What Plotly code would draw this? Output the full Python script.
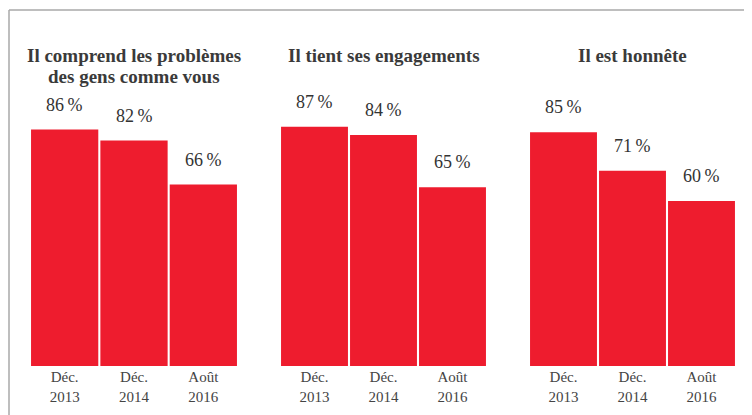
import plotly.graph_objects as go

# Données
periodes = ["Déc.<br>2013", "Déc.<br>2014", "Août<br>2016"]
titres = [["Il comprend les problèmes", "des gens comme vous"],
          ["Il tient ses engagements"],
          ["Il est honnête"]]
comprend = [86, 82, 66]
engagements = [87, 84, 65]
honnete = [85, 71, 60]
series = [comprend, engagements, honnete]

# la page a une marge de 8 px, on réduit la figure d'autant
W, H = 744, 407
ROUGE = "#ee1c2e"
POLICE = "Liberation Serif, Times New Roman, serif"

# domaines en pixels -> fraction de la largeur
domaines = [(22, 230), (272, 479), (521, 728)]

marge_haut, marge_bas = 83, 49
hauteur_trace = H - marge_haut - marge_bas


def py(pix):
    # pixel vertical -> coordonnée papier
    return (H - marge_bas - pix) / hauteur_trace


fig = go.Figure()

for i, valeurs in enumerate(series):
    ax = "" if i == 0 else str(i + 1)
    fig.add_trace(go.Bar(x=periodes, y=valeurs, marker_color=ROUGE,
                         marker_line_width=0, xaxis="x" + ax, yaxis="y" + ax,
                         showlegend=False, hoverinfo="skip"))
    for p, v in zip(periodes, valeurs):
        fig.add_annotation(x=p, y=v, xref="x" + ax, yref="y" + ax,
                           text=f"{v}\u2009%", showarrow=False,
                           yanchor="bottom", yshift=13,
                           font=dict(family=POLICE, size=18, color="#333"))
    d0, d1 = domaines[i]
    fig.update_layout({
        "xaxis" + ax: dict(domain=[d0 / W, d1 / W], anchor="y" + ax,
                           showline=False, showgrid=False, ticks="",
                           tickfont=dict(family=POLICE, size=15, color="#444")),
        "yaxis" + ax: dict(range=[0, 100], anchor="x" + ax, visible=False,
                           showgrid=False, zeroline=False),
    })

# titres
for i, lignes in enumerate(titres):
    d0, d1 = domaines[i]
    for k, ligne in enumerate(lignes):
        fig.add_annotation(x=(d0 + d1) / 2 / W, y=py(47 + 22 * k),
                           xref="paper", yref="paper",
                           text="<b>" + ligne + "</b>", showarrow=False,
                           yanchor="middle", xanchor="center",
                           font=dict(family=POLICE, size=19, color="#3a3a3a"))

# cadre gris
fig.add_shape(type="line", xref="paper", yref="paper",
              x0=1 / W, x1=1.05, y0=py(2), y1=py(2),
              line=dict(color="#a8a8a8", width=1.5))
fig.add_shape(type="line", xref="paper", yref="paper",
              x0=1 / W, x1=1 / W, y0=py(2), y1=-0.3,
              line=dict(color="#a8a8a8", width=1.5))

fig.update_layout(width=W, height=H, bargap=0.03,
                  margin=dict(l=0, r=0, t=marge_haut, b=marge_bas),
                  paper_bgcolor="white", plot_bgcolor="white")

fig.write_html("out.html")
